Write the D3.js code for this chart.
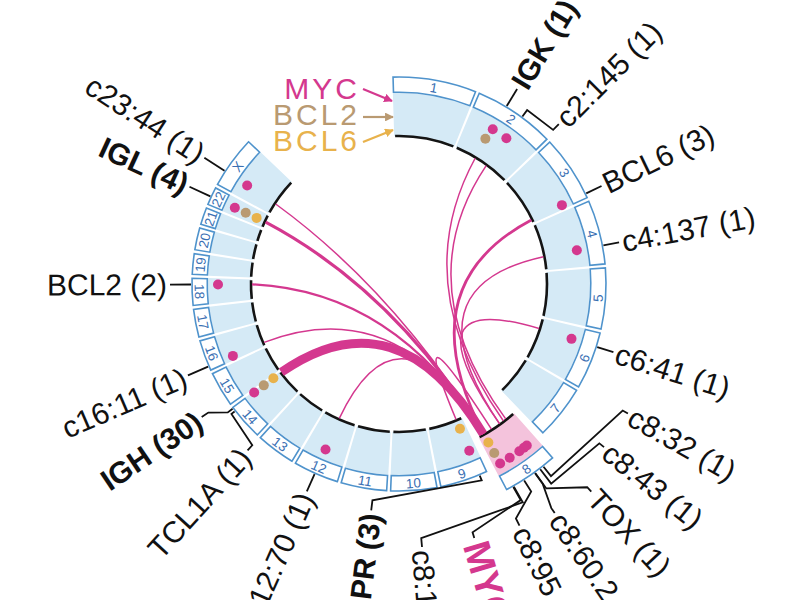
<!DOCTYPE html>
<html><head><meta charset="utf-8">
<script src="https://cdn.jsdelivr.net/npm/d3@7"></script>
<style>body{margin:0;background:#fff}svg{display:block}</style>
</head><body>
<svg id="chart" width="800" height="600"></svg>
<script>
// ---------------- DATA ----------------
const chromosomes = ["1","2","3","4","5","6","7","8","9","10","11","12","13","14","15","16","17","18","19","20","21","22","X"];
const chromLengthsMb = [249,243,198,191,181,171,159,146,141,136,135,134,115,107,103,90,81,78,59,63,48,51,155];
const highlightChrom = "8";

const geneNames = ["MYC","BCL2","BCL6"];

// breakpoint dots
const dotChrom = ["2","2","2","3","4","6","8","8","8","8","8","8","8","9","9","12","14","14","14","16","18","22","22","22","X"];
const dotMb    = [89,145,84,187,137,41,32,43,60,95,128.5,128.5,128.5,22,22,70,106,106,106,11,61,23,23,23,44];
const dotGene  = ["MYC","MYC","BCL2","MYC","MYC","MYC","MYC","MYC","MYC","MYC","MYC","BCL2","BCL6","MYC","BCL6","MYC","MYC","BCL2","BCL6","MYC","MYC","MYC","BCL2","BCL6","MYC"];

// links: partner locus <-> chromosome 8 locus
const linkChrom  = ["2","2","3","4","6","9","12","14","14","16","18","22","X"];
const linkMb     = [89,145,187,137,41,22,70,96,106,11,61,23,44];
const linkChr8Mb = [43,32,128.2,60,60.2,95,127,128,129.5,128,128.3,128.8,128.1];
const linkCount  = [1,1,3,1,1,1,1,1,30,1,2,4,1];

// labels
const labelText  = ["IGK (1)","c2:145 (1)","BCL6 (3)","c4:137 (1)","c6:41 (1)","c8:32 (1)","c8:43 (1)","TOX (1)","c8:60.2 (1)","c8:95 (1)","MYC","c8:127 (1)","PR (3)","c12:70 (1)","TCL1A (1)","IGH (30)","c16:11 (1)","BCL2 (2)","IGL (4)","c23:44 (1)"];
const labelChrom = ["2","2","3","4","6","8","8","8","8","8","8","8","9","12","14","14","16","18","22","X"];
const labelMb    = [89,145,187,137,41,32,43,59.7,60.2,95,128.7,127,22,70,96,106,11,61,23,44];
const labelKind  = ["bold","normal","normal","normal","normal","normal","normal","normal","normal","normal","myc","normal","bold","normal","normal","bold","normal","normal","bold","normal"];

// ---------------- LAYOUT ----------------
const cx = 399, cy = 284;
const R_IN = 148, R_BAND = 191, R_BOX = 207, EXPLODE = 25;
const DEG_PER_MB = 0.0926, GAP = 1.4, EXTRA_GAP = 1.5, START = -1.5;
const BEZ_R = 8;
const COLORS = {MYC:"#d4388e", BCL2:"#b99a72", BCL6:"#e8b24c"};
const DOT_R = {MYC:181, BCL2:169, BCL6:157};
// label placement: [labelAngle or null, r1, r2, r3]
const labelLayout = [
  [null,0,0,228],[45,216,218,226],[null,0,0,225],[null,0,0,224],[null,0,0,225],
  [119.5,245,257,263],[128.5,251,256,262],[137.2,252,277,283],[145.8,246,271,277],[153.5,246,262,270],
  [163.5,248,259,265],[175,251,255,264],[187,213,218,228],[null,0,0,227],[222.3,212,218,225],
  [236,214,230,238],[null,0,0,230],[null,0,0,229],[null,0,0,231],[null,0,0,232]
];

const svg = d3.select("#chart");
const g = svg.append("g").attr("transform", `translate(${cx},${cy})`);
const rad = d => d * Math.PI / 180;
const pt = (r, a) => [r * Math.sin(rad(a)), -r * Math.cos(rad(a))];

const chromScale = {};
let cursor = START;
chromosomes.forEach((c, i) => {
  if (c === highlightChrom) cursor += EXTRA_GAP;
  const span = chromLengthsMb[i] * DEG_PER_MB;
  chromScale[c] = d3.scaleLinear().domain([0, chromLengthsMb[i]]).range([cursor, cursor + span]);
  cursor += span + GAP;
  if (c === highlightChrom) cursor += EXTRA_GAP;
});
const off = c => c === highlightChrom ? EXPLODE : 0;
const arc = d3.arc();

// ideogram
chromosomes.forEach(c => {
  const [a0, a1] = chromScale[c].range();
  const o = off(c);
  g.append("path")
    .attr("d", arc({innerRadius: R_IN + o, outerRadius: R_BAND + o, startAngle: rad(a0 - 0.35), endAngle: rad(a1 + 0.35)}))
    .attr("fill", c === highlightChrom ? "#f4c3dc" : "#d5eaf6");
  g.append("path")
    .attr("d", arc({innerRadius: R_BAND + o + 0.8, outerRadius: R_BOX + o, startAngle: rad(a0 - 0.15), endAngle: rad(a1 + 0.15)}))
    .attr("fill", "#fff").attr("stroke", "#4f93cc").attr("stroke-width", 1.6);
  g.append("path")
    .attr("d", arc({innerRadius: R_IN + o - 1.3, outerRadius: R_IN + o + 1.3, startAngle: rad(a0), endAngle: rad(a1)}))
    .attr("fill", "#141414");
  const am = (a0 + a1) / 2;
  const [x, y] = pt((R_BAND + R_BOX) / 2 + o + 0.5, am);
  const rot = (am > 90 && am < 270) ? am - 180 : am;
  g.append("text").attr("transform", `translate(${x},${y}) rotate(${rot})`)
    .attr("text-anchor", "middle").attr("dy", "0.36em")
    .attr("font-family", "Liberation Sans, Arial, sans-serif").attr("font-size", 13.5)
    .attr("fill", "#3a6fb3").text(c);
});

// links
const widthScale = d3.scaleSqrt().domain([1, 30]).range([1.5, 9]);
const linkIdx = d3.range(linkChrom.length).sort((a, b) => linkCount[a] - linkCount[b]);
linkIdx.forEach(i => {
  const aP = chromScale[linkChrom[i]](linkMb[i]);
  const a8 = chromScale[highlightChrom](linkChr8Mb[i]);
  let d = a8 - aP;
  while (d > 180) d -= 360;
  while (d <= -180) d += 360;
  const mid = aP + d / 2;
  const p = d3.path();
  p.moveTo(...pt(R_IN - 1, aP));
  p.quadraticCurveTo(...pt(BEZ_R, mid), ...pt(R_IN + EXPLODE - 1, a8));
  g.append("path").attr("d", p.toString()).attr("fill", "none")
    .attr("stroke", "#d4388f").attr("stroke-width", widthScale(linkCount[i]));
});

// dots
dotChrom.forEach((c, i) => {
  const a = chromScale[c](dotMb[i]);
  const [x, y] = pt(DOT_R[dotGene[i]] + off(c), a);
  g.append("circle").attr("cx", x).attr("cy", y).attr("r", 5).attr("fill", COLORS[dotGene[i]]);
});

// labels
labelText.forEach((t, i) => {
  const c = labelChrom[i];
  const a = chromScale[c](labelMb[i]);
  const [la0, r1, r2, r3] = labelLayout[i];
  const la = la0 === null ? a : la0;
  const rb = R_BOX + off(c) + 1;
  const p = d3.path();
  p.moveTo(...pt(rb, a));
  if (la0 !== null) { p.lineTo(...pt(r1, a)); p.lineTo(...pt(r2, la)); }
  p.lineTo(...pt(r3, la));
  g.append("path").attr("d", p.toString()).attr("fill", "none").attr("stroke", "#111").attr("stroke-width", 1.8);
  const kind = labelKind[i];
  const tr = r3 + (kind === "myc" ? 4 : 3);
  const [x, y] = pt(tr, la);
  const right = la < 180;
  const rot = right ? la - 90 : la + 90;
  g.append("text").attr("transform", `translate(${x},${y}) rotate(${rot})`)
    .attr("text-anchor", right ? "start" : "end").attr("dy", "0.35em")
    .attr("font-family", "Liberation Sans, Arial, sans-serif")
    .attr("font-size", kind === "myc" ? 38 : 30)
    .attr("font-weight", kind === "normal" ? "normal" : "bold")
    .attr("fill", kind === "myc" ? COLORS.MYC : "#111")
    .text(t);
});

// legend
const defs = svg.append("defs");
geneNames.forEach(gn => {
  defs.append("marker").attr("id", "arr" + gn).attr("viewBox", "0 0 10 10").attr("refX", 9).attr("refY", 5)
    .attr("markerWidth", 4).attr("markerHeight", 4).attr("orient", "auto")
    .append("path").attr("d", "M0,0L10,5L0,10z").attr("fill", COLORS[gn]);
});
const legendY = [88, 114, 140];
const arrowFrom = [[363, 89], [363, 117], [363, 142]];
const arrowTo = [[392, 101], [393, 117], [393, 130]];
geneNames.forEach((gn, i) => {
  svg.append("text").attr("x", 360).attr("y", legendY[i]).attr("dy", "0.36em")
    .attr("text-anchor", "end").attr("font-family", "Liberation Sans, Arial, sans-serif")
    .attr("font-size", 30).attr("letter-spacing", 3).attr("fill", COLORS[gn]).text(gn);
  svg.append("line").attr("x1", arrowFrom[i][0]).attr("y1", arrowFrom[i][1])
    .attr("x2", arrowTo[i][0]).attr("y2", arrowTo[i][1])
    .attr("stroke", COLORS[gn]).attr("stroke-width", 2.2).attr("marker-end", `url(#arr${gn})`);
});
</script>
</body></html>
